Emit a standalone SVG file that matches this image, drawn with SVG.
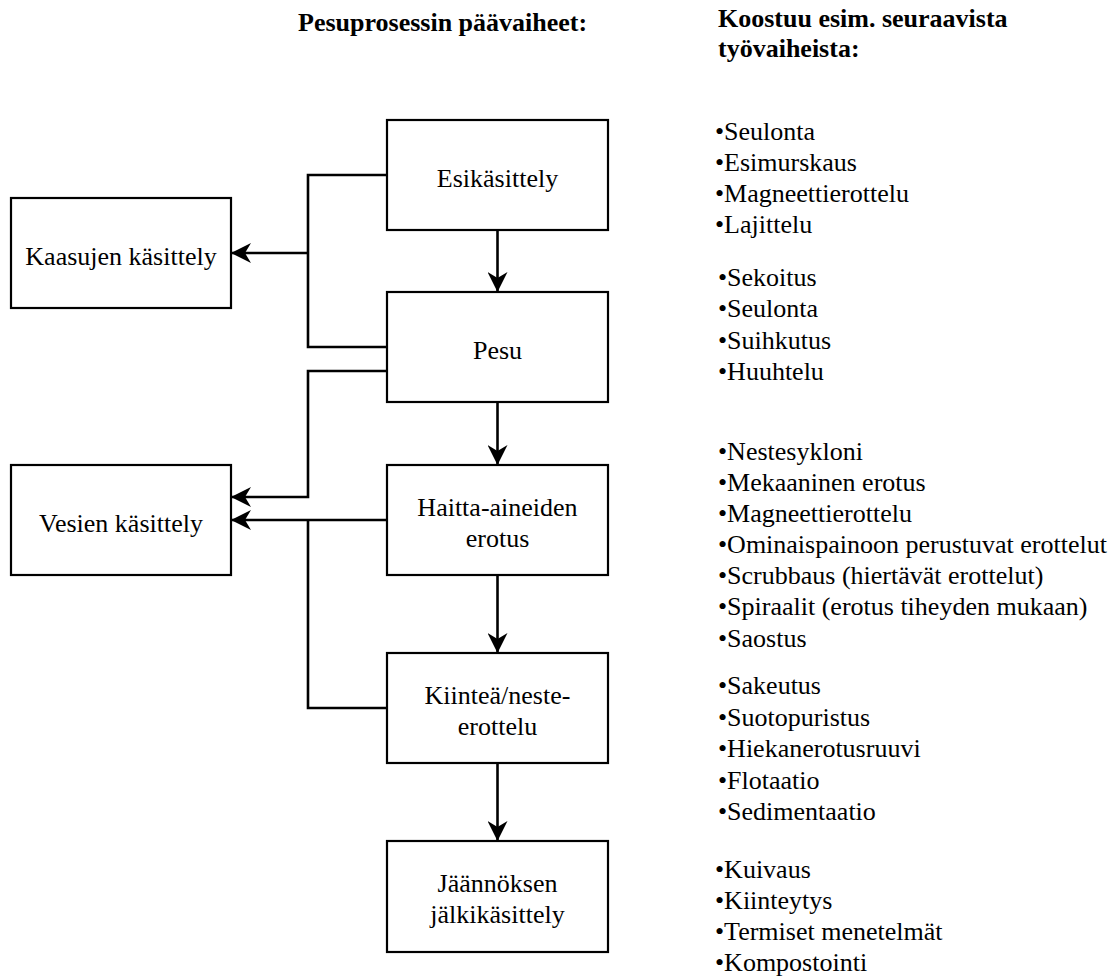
<svg xmlns="http://www.w3.org/2000/svg" width="1115" height="976" viewBox="0 0 1115 976">
  <style>
    .box { fill: #ffffff; stroke: #000000; stroke-width: 2.2; }
    .lbl { font-family: "Liberation Serif", "Times New Roman", serif; font-size: 26px; fill: #000000; text-anchor: middle; }
    .head { font-family: "Liberation Serif", "Times New Roman", serif; font-size: 26px; font-weight: bold; fill: #000000; }
    .list { font-family: "Liberation Serif", "Times New Roman", serif; font-size: 26px; fill: #000000; }
    .wire { fill: none; stroke: #000000; stroke-width: 2.6; }
    .arrow { fill: none; stroke: #000000; stroke-width: 2.6; marker-end: url(#head); }
  </style>
  <defs>
    <marker id="head" viewBox="0 0 20 20" refX="20" refY="10" markerWidth="20" markerHeight="20" markerUnits="userSpaceOnUse" orient="auto">
      <path d="M0,0 L20,10 L0,20 L6,10 Z" fill="#000000"/>
    </marker>
  </defs>

  <rect width="1115" height="976" fill="#ffffff"/>

  <!-- column headings -->
  <text class="head" x="298" y="31">Pesuprosessin päävaiheet:</text>
  <text class="head" x="718" y="27">Koostuu esim. seuraavista</text>
  <text class="head" x="718" y="57">työvaiheista:</text>

  <!-- connectors -->
  <g id="connectors">
    <path class="arrow" d="M497.5,230 V292"/>
    <path class="arrow" d="M497.5,402 V465"/>
    <path class="arrow" d="M497.5,575 V653"/>
    <path class="arrow" d="M497.5,763 V841"/>
    <path class="wire" d="M387,175 H308 V347 H387"/>
    <path class="arrow" d="M308,253 H231"/>
    <path class="arrow" d="M387,371 H308 V497 H231"/>
    <path class="arrow" d="M387,520 H231"/>
    <path class="wire" d="M308,520 V708 H387"/>
  </g>

  <!-- process steps -->
  <g id="esikasittely">
    <rect class="box" x="387" y="120" width="221" height="110"/>
    <text class="lbl" x="497.5" y="187">Esikäsittely</text>
  </g>
  <g id="pesu">
    <rect class="box" x="387" y="292" width="221" height="110"/>
    <text class="lbl" x="497.5" y="359">Pesu</text>
  </g>
  <g id="haitta-aineiden-erotus">
    <rect class="box" x="387" y="465" width="221" height="110"/>
    <text class="lbl" x="497.5" y="516">Haitta-aineiden</text>
    <text class="lbl" x="497.5" y="547">erotus</text>
  </g>
  <g id="kiintea-neste-erottelu">
    <rect class="box" x="387" y="653" width="221" height="110"/>
    <text class="lbl" x="497.5" y="704">Kiinteä/neste-</text>
    <text class="lbl" x="497.5" y="735">erottelu</text>
  </g>
  <g id="jaannoksen-jalkikasittely">
    <rect class="box" x="387" y="841" width="221" height="111"/>
    <text class="lbl" x="497.5" y="892">Jäännöksen</text>
    <text class="lbl" x="497.5" y="923">jälkikäsittely</text>
  </g>
  <g id="kaasujen-kasittely">
    <rect class="box" x="11" y="198" width="220" height="110"/>
    <text class="lbl" x="121" y="265">Kaasujen käsittely</text>
  </g>
  <g id="vesien-kasittely">
    <rect class="box" x="11" y="465" width="220" height="110"/>
    <text class="lbl" x="121" y="532">Vesien käsittely</text>
  </g>

  <!-- work-phase lists -->
  <g id="list-esikasittely" class="list">
    <text x="715" y="140">•Seulonta</text>
    <text x="715" y="171">•Esimurskaus</text>
    <text x="715" y="202">•Magneettierottelu</text>
    <text x="715" y="233">•Lajittelu</text>
  </g>
  <g id="list-pesu" class="list">
    <text x="718" y="286">•Sekoitus</text>
    <text x="718" y="317">•Seulonta</text>
    <text x="718" y="349">•Suihkutus</text>
    <text x="718" y="380">•Huuhtelu</text>
  </g>
  <g id="list-haitta" class="list">
    <text x="718" y="460">•Nestesykloni</text>
    <text x="718" y="491">•Mekaaninen erotus</text>
    <text x="718" y="522">•Magneettierottelu</text>
    <text x="718" y="553">•Ominaispainoon perustuvat erottelut</text>
    <text x="718" y="584">•Scrubbaus (hiertävät erottelut)</text>
    <text x="718" y="615">•Spiraalit (erotus tiheyden mukaan)</text>
    <text x="718" y="647">•Saostus</text>
  </g>
  <g id="list-kiintea" class="list">
    <text x="718" y="694">•Sakeutus</text>
    <text x="718" y="726">•Suotopuristus</text>
    <text x="718" y="757">•Hiekanerotusruuvi</text>
    <text x="718" y="789">•Flotaatio</text>
    <text x="718" y="820">•Sedimentaatio</text>
  </g>
  <g id="list-jaannos" class="list">
    <text x="715" y="878">•Kuivaus</text>
    <text x="715" y="909">•Kiinteytys</text>
    <text x="715" y="940">•Termiset menetelmät</text>
    <text x="715" y="971">•Kompostointi</text>
  </g>
</svg>
